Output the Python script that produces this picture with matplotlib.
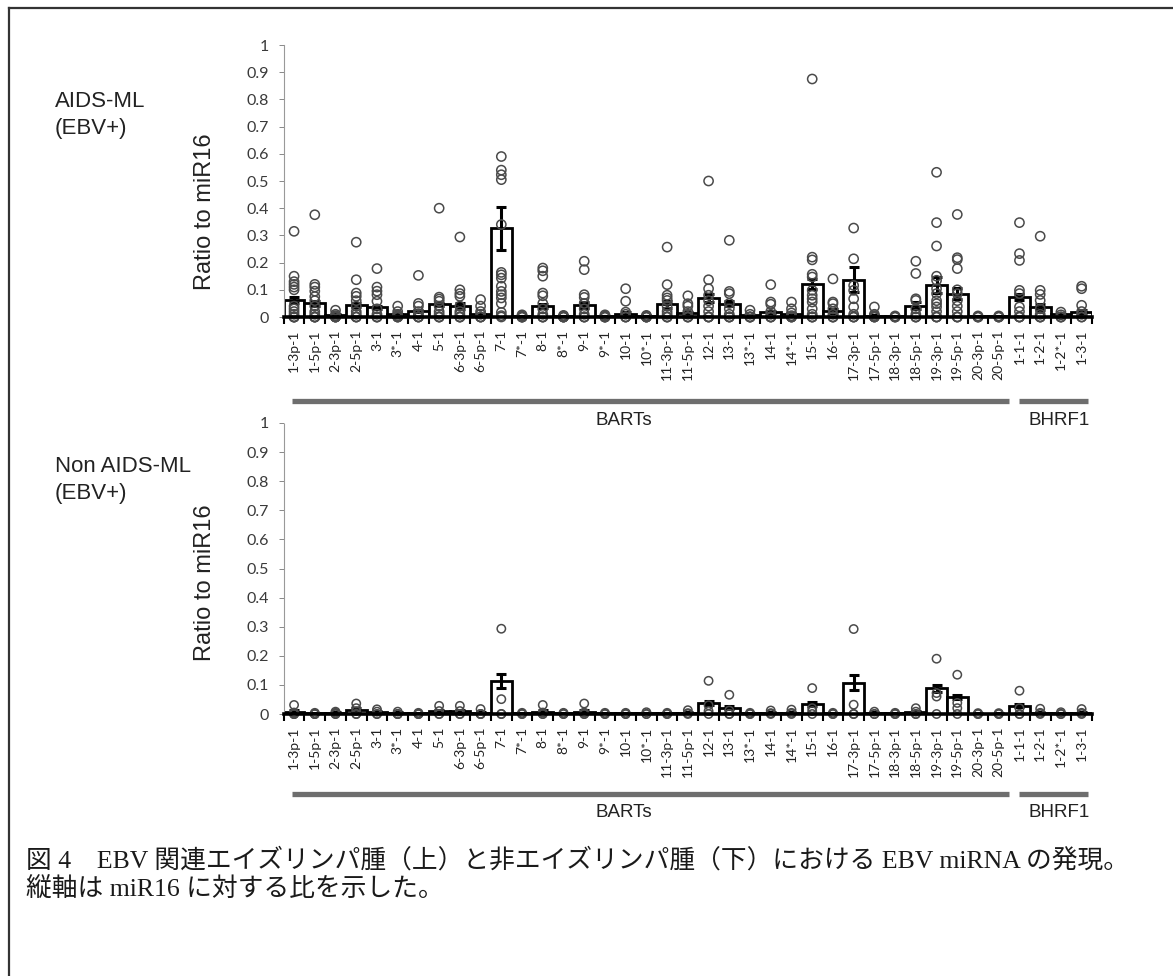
import matplotlib.pyplot as plt
import numpy as np
from matplotlib.lines import Line2D
from matplotlib.transforms import blended_transform_factory

# EBV miRNA names along the x axis (BART cluster first, then BHRF1)
mirnas = ['1-3p-1', '1-5p-1', '2-3p-1', '2-5p-1', '3-1', '3*-1', '4-1', '5-1',
          '6-3p-1', '6-5p-1', '7-1', '7*-1', '8-1', '8*-1', '9-1', '9*-1',
          '10-1', '10*-1', '11-3p-1', '11-5p-1', '12-1', '13-1', '13*-1',
          '14-1', '14*-1', '15-1', '16-1', '17-3p-1', '17-5p-1', '18-3p-1',
          '18-5p-1', '19-3p-1', '19-5p-1', '20-3p-1', '20-5p-1',
          '1-1-1', '1-2-1', '1-2*-1', '1-3-1']
n_barts = 35

# AIDS-ML (EBV+): mean ratio, SEM and individual samples
aids_mean = [0.062, 0.050, 0.008, 0.043, 0.036, 0.010, 0.022, 0.047, 0.040, 0.010,
             0.326, 0.004, 0.040, 0.003, 0.044, 0.004, 0.012, 0.004, 0.046, 0.016,
             0.070, 0.049, 0.006, 0.018, 0.012, 0.122, 0.022, 0.137, 0.005, 0.002,
             0.042, 0.117, 0.085, 0.002, 0.002, 0.074, 0.037, 0.010, 0.018]
aids_sem = [0.012, 0.010, 0.002, 0.008, 0.006, 0.002, 0.004, 0.006, 0.010, 0.002,
            0.078, 0.001, 0.008, 0.001, 0.010, 0.001, 0.005, 0.001, 0.012, 0.004,
            0.014, 0.010, 0.001, 0.005, 0.003, 0.018, 0.006, 0.045, 0.002, 0.001,
            0.012, 0.030, 0.020, 0.001, 0.001, 0.012, 0.012, 0.002, 0.006]
aids_points = [
    [0.315, 0.15, 0.13, 0.12, 0.11, 0.10, 0.04, 0.03, 0.02, 0.01, 0, 0, 0, 0],
    [0.376, 0.12, 0.11, 0.095, 0.075, 0.06, 0.04, 0.02, 0.01, 0, 0, 0, 0],
    [0.025, 0.01, 0.005, 0, 0, 0, 0],
    [0.275, 0.137, 0.088, 0.076, 0.06, 0.04, 0.02, 0.01, 0, 0, 0],
    [0.178, 0.11, 0.095, 0.082, 0.058, 0.03, 0.01, 0, 0, 0],
    [0.04, 0.02, 0.01, 0.005, 0, 0, 0],
    [0.153, 0.05, 0.04, 0.02, 0.01, 0, 0, 0],
    [0.40, 0.073, 0.066, 0.058, 0.04, 0.02, 0.01, 0, 0, 0],
    [0.294, 0.10, 0.086, 0.076, 0.04, 0.02, 0.01, 0, 0, 0],
    [0.064, 0.04, 0.02, 0.01, 0, 0, 0],
    [0.59, 0.54, 0.523, 0.505, 0.34, 0.164, 0.155, 0.143, 0.113, 0.094, 0.082,
     0.07, 0.05, 0.017, 0.005, 0],
    [0.008, 0.004, 0, 0, 0, 0],
    [0.18, 0.17, 0.15, 0.088, 0.078, 0.05, 0.03, 0.01, 0, 0, 0],
    [0.006, 0.003, 0, 0, 0, 0],
    [0.205, 0.174, 0.082, 0.072, 0.05, 0.03, 0.01, 0, 0, 0],
    [0.008, 0.004, 0, 0, 0, 0],
    [0.104, 0.058, 0.018, 0.01, 0, 0, 0],
    [0.006, 0.003, 0, 0, 0, 0],
    [0.257, 0.119, 0.08, 0.07, 0.061, 0.04, 0.02, 0.01, 0, 0, 0],
    [0.078, 0.049, 0.04, 0.02, 0.01, 0, 0, 0],
    [0.50, 0.137, 0.104, 0.08, 0.06, 0.04, 0.02, 0, 0, 0],
    [0.282, 0.094, 0.086, 0.05, 0.03, 0.01, 0, 0, 0],
    [0.025, 0.01, 0, 0, 0, 0],
    [0.119, 0.055, 0.047, 0.02, 0.01, 0, 0, 0],
    [0.055, 0.03, 0.015, 0.005, 0, 0, 0],
    [0.875, 0.22, 0.21, 0.157, 0.147, 0.098, 0.08, 0.067, 0.055, 0.03, 0.01, 0, 0, 0],
    [0.14, 0.055, 0.049, 0.03, 0.01, 0, 0, 0],
    [0.327, 0.214, 0.116, 0.098, 0.067, 0.037, 0.01, 0, 0, 0],
    [0.037, 0.01, 0.005, 0, 0, 0],
    [0.004, 0, 0, 0],
    [0.205, 0.16, 0.067, 0.061, 0.03, 0.01, 0, 0, 0],
    [0.532, 0.347, 0.261, 0.15, 0.135, 0.104, 0.086, 0.06, 0.049, 0.037, 0.02, 0, 0, 0],
    [0.377, 0.218, 0.211, 0.178, 0.10, 0.086, 0.06, 0.04, 0.02, 0, 0, 0],
    [0.004, 0, 0, 0],
    [0.004, 0, 0, 0],
    [0.347, 0.233, 0.208, 0.098, 0.086, 0.037, 0.02, 0, 0, 0],
    [0.297, 0.098, 0.083, 0.061, 0.03, 0.01, 0, 0, 0],
    [0.018, 0.008, 0, 0, 0],
    [0.113, 0.104, 0.043, 0.02, 0.01, 0, 0],
]

# Non AIDS-ML (EBV+)
non_mean = [0.008, 0.002, 0.004, 0.015, 0.007, 0.004, 0.002, 0.009, 0.009, 0.004,
            0.114, 0.002, 0.008, 0.002, 0.008, 0.002, 0.002, 0.003, 0.002, 0.004,
            0.038, 0.021, 0.002, 0.004, 0.005, 0.035, 0.002, 0.108, 0.004, 0.002,
            0.008, 0.088, 0.058, 0.001, 0.001, 0.029, 0.005, 0.003, 0.005]
non_sem = [0.005, 0.001, 0.002, 0.006, 0.003, 0.002, 0.001, 0.005, 0.005, 0.002,
           0.025, 0.001, 0.005, 0.001, 0.006, 0.001, 0.001, 0.001, 0.001, 0.002,
           0.008, 0.005, 0.001, 0.002, 0.003, 0.006, 0.001, 0.025, 0.002, 0.001,
           0.004, 0.012, 0.008, 0.001, 0.001, 0.005, 0.003, 0.001, 0.003]
non_points = [
    [0.031, 0.005, 0, 0, 0],
    [0.004, 0, 0, 0],
    [0.008, 0.004, 0, 0],
    [0.036, 0.02, 0.01, 0, 0],
    [0.016, 0.008, 0, 0],
    [0.008, 0, 0, 0],
    [0.004, 0, 0, 0],
    [0.028, 0.01, 0, 0],
    [0.028, 0.01, 0, 0],
    [0.017, 0, 0, 0],
    [0.293, 0.051, 0, 0],
    [0.004, 0, 0],
    [0.031, 0.005, 0, 0],
    [0.004, 0, 0],
    [0.036, 0.005, 0, 0],
    [0.004, 0, 0],
    [0.004, 0, 0],
    [0.006, 0, 0],
    [0.004, 0, 0],
    [0.013, 0.003, 0],
    [0.114, 0.03, 0.01, 0],
    [0.066, 0.012, 0, 0],
    [0.004, 0, 0],
    [0.012, 0.003, 0],
    [0.015, 0.004, 0],
    [0.089, 0.02, 0.01, 0],
    [0.004, 0, 0],
    [0.292, 0.032, 0, 0],
    [0.008, 0, 0],
    [0.004, 0, 0],
    [0.02, 0.008, 0, 0],
    [0.19, 0.072, 0.06, 0],
    [0.135, 0.038, 0.02, 0],
    [0.003, 0, 0],
    [0.003, 0, 0],
    [0.08, 0.02, 0, 0],
    [0.018, 0.004, 0],
    [0.006, 0, 0],
    [0.017, 0.004, 0],
]

y_ticks = np.round(np.arange(0, 1.01, 0.1), 1)

W, H = 1173, 976
fig = plt.figure(figsize=(W / 100, H / 100), dpi=100)
fig.patch.set_facecolor('white')


def px(x, y):
    return x / W, 1 - y / H


def draw_panel(ax, means, sems, points, msize, group_y, label_y):
    ax.patch.set_visible(False)
    x = np.arange(len(mirnas))
    ax.bar(x, means, width=1.0, color='white', edgecolor='black',
           linewidth=2.0, zorder=2)
    ax.errorbar(x, means, yerr=sems, fmt='none', ecolor='black',
                elinewidth=2.2, capsize=3.5, capthick=2.2, zorder=3)
    for i, vals in enumerate(points):
        ax.scatter([i] * len(vals), vals, s=msize, facecolors='none',
                   edgecolors='#4a4a4a', linewidths=1.1, zorder=4, clip_on=False)

    ax.set_xlim(-0.5, len(mirnas) - 0.5)
    ax.set_ylim(0, 1)
    ax.set_yticks(y_ticks)
    ax.set_yticklabels([f'{v:g}' for v in y_ticks], family='Lato',
                       fontsize=11.5, color='#3a3a3a')
    ax.tick_params(axis='y', length=3.5, width=0.7, color='#888888', pad=7)

    ax.set_xticks(x)
    ax.set_xticklabels(mirnas, rotation=90, family='Lato', fontsize=10,
                       color='#222222')
    ax.set_xticks(np.arange(-0.5, len(mirnas)), minor=True)
    ax.tick_params(axis='x', which='major', length=0, pad=9)
    ax.tick_params(axis='x', which='minor', length=5, width=1.5, color='black')

    for side in ('top', 'right'):
        ax.spines[side].set_visible(False)
    ax.spines['bottom'].set_linewidth(2.6)
    ax.spines['bottom'].set_zorder(5)
    ax.spines['left'].set_linestyle((0, (1, 1)))
    ax.spines['left'].set_linewidth(0.8)
    ax.spines['left'].set_color('#999999')

    # gene-cluster brackets under the tick labels
    tr = blended_transform_factory(ax.transData, ax.transAxes)
    ax.plot([-0.1, n_barts - 0.5], [group_y, group_y], transform=tr,
            clip_on=False, color='#6e6e6e', lw=3.8, solid_capstyle='butt')
    ax.plot([n_barts - 0.03, len(mirnas) - 0.7], [group_y, group_y], transform=tr,
            clip_on=False, color='#6e6e6e', lw=3.8, solid_capstyle='butt')
    ax.text(15.9, label_y, 'BARTs', transform=tr, ha='center', va='center',
            family='Liberation Sans', fontsize=13.5, color='#222222')
    ax.text(36.9, label_y, 'BHRF1', transform=tr, ha='center', va='center',
            family='Liberation Sans', fontsize=13.5, color='#222222')


# upper panel: y=1 at 45 px, y=0 at 317 px
x0, x1 = 283.7, 1092
ax1 = fig.add_axes([x0 / W, 1 - 317 / H, (x1 - x0) / W, 272 / H])
draw_panel(ax1, aids_mean, aids_sem, aids_points, 44, -0.309, -0.379)

# lower panel: y=1 at 423 px, y=0 at 714 px
ax2 = fig.add_axes([x0 / W, 1 - 714 / H, (x1 - x0) / W, 291 / H])
draw_panel(ax2, non_mean, non_sem, non_points, 36, -0.275, -0.340)

side_font = dict(family='Liberation Sans', color='#222222')
fig.text(*px(55, 115), 'AIDS-ML\n(EBV+)', ha='left', va='center',
         fontsize=16, linespacing=1.35, **side_font)
fig.text(*px(55, 480), 'Non AIDS-ML\n(EBV+)', ha='left', va='center',
         fontsize=16, linespacing=1.35, **side_font)
fig.text(*px(205, 212), 'Ratio to miR16', rotation=90, ha='center',
         va='center', fontsize=17, **side_font)
fig.text(*px(205, 583), 'Ratio to miR16', rotation=90, ha='center',
         va='center', fontsize=17, **side_font)

# figure caption
cap_font = dict(family=['Liberation Serif', 'Noto Sans CJK JP'],
                color='#1a1a1a', fontsize=18.5)
fig.text(*px(26, 860), '図 4　EBV 関連エイズリンパ腫（上）と非エイズリンパ腫（下）における EBV miRNA の発現。',
         ha='left', va='center', **cap_font)
fig.text(*px(26, 889), '縦軸は miR16 に対する比を示した。',
         ha='left', va='center', **cap_font)

# outer frame (top and left edges)
fig.add_artist(Line2D([9 / W, 1], [1 - 8 / H, 1 - 8 / H], color='#333333', lw=1.6))
fig.add_artist(Line2D([9 / W, 9 / W], [1 - 8 / H, 0], color='#333333', lw=1.6))

fig.savefig('out.png', dpi=100, facecolor='white')
